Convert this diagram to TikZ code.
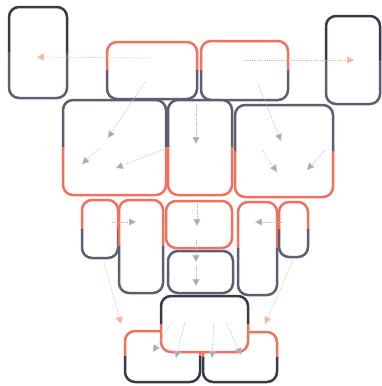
\documentclass[tikz,border=0pt]{standalone}
\usetikzlibrary{fit,arrows.meta}
\definecolor{gr}{HTML}{5E5E72}
\definecolor{dk}{HTML}{3A3A46}
\definecolor{rd}{HTML}{F2715E}
\definecolor{fa}{HTML}{B8BCC8}
\definecolor{fp}{HTML}{F4B8A6}
\tikzset{
  bx/.style={line width=2.5pt, rounded corners=10pt},
  holder/.style={inner sep=0pt, outer sep=0pt},
  faint/.style={draw=fa, line width=0.7pt, densely dotted, -{Triangle[length=7pt,width=7pt,fill=fa!90!black]}},
  faintp/.style={draw=fp, line width=0.7pt, densely dotted, -{Triangle[length=7pt,width=7pt,fill=fp]}}
}
\newcommand{\twobox}[7]{%
  \node[holder, fit={(#2,#3) (#4,#5)}] (#1) {};
  \fill[white, rounded corners=10pt] (#1.north west) rectangle (#1.south east);
  \begin{scope}
    \clip (#2-6,#3-6) rectangle (#4+6,{(#3+#5)/2});
    \draw[bx, draw=#6] (#1.north west) rectangle (#1.south east);
  \end{scope}
  \begin{scope}
    \clip (#2-6,{(#3+#5)/2}) rectangle (#4+6,#5+6);
    \draw[bx, draw=#7] (#1.north west) rectangle (#1.south east);
  \end{scope}}
\begin{document}
\begin{tikzpicture}[x=1pt,y=-1pt]
\useasboundingbox[fill=white] (0,0) rectangle (381,386);
% boxes
\twobox{b1}{9}{7}{67}{98}{dk}{gr}
\twobox{b2}{107}{42}{197}{99}{rd}{gr}
\twobox{b3}{201}{41}{288}{100}{rd}{gr}
\twobox{b4}{326}{16}{380}{104}{dk}{gr}
\twobox{b5}{63}{100}{166}{195}{gr}{rd}
\twobox{b6}{168}{100}{232}{195}{gr}{rd}
\twobox{b7}{235}{105}{333}{197}{gr}{rd}
\twobox{b8}{82}{200}{118}{258}{rd}{gr}
\twobox{b9}{119}{200}{163}{293}{rd}{gr}
\twobox{b10}{166}{201}{232}{248}{rd}{rd}
\twobox{b11}{168}{251}{233}{293}{gr}{gr}
\twobox{b12}{238}{202}{277}{295}{rd}{gr}
\twobox{b13}{279}{202}{308}{257}{rd}{gr}
\twobox{b15}{125}{331}{200}{382}{rd}{dk}
\twobox{b16}{203}{332}{277}{382}{rd}{dk}
\twobox{b14}{161}{296}{248}{352}{dk}{rd}
% arrow end points
\coordinate (s1) at (150,58);  \coordinate (e1) at (37,57);
\coordinate (s2) at (245,60);  \coordinate (e2) at (354,60);
\coordinate (s3) at (145,82);  \coordinate (e3) at (108,138);
\coordinate (s4) at (100,148); \coordinate (e4) at (82,164);
\coordinate (s5) at (172,146); \coordinate (e5) at (116,168);
\coordinate (s6) at (196,104); \coordinate (e6) at (196,144);
\coordinate (s7) at (258,84);  \coordinate (e7) at (281,141);
\coordinate (s8) at (262,150); \coordinate (e8) at (277,172);
\coordinate (s9) at (325,150); \coordinate (e9) at (307,170);
\coordinate (s10) at (112,222); \coordinate (e10) at (136,222);
\coordinate (s11) at (282,222); \coordinate (e11) at (255,222);
\coordinate (s12) at (197,204); \coordinate (e12) at (197,226);
\coordinate (s13) at (196,240); \coordinate (e13) at (196,262);
\coordinate (s14) at (196,266); \coordinate (e14) at (196,286);
\coordinate (s15) at (104,262); \coordinate (e15) at (121,324);
\coordinate (s16) at (293,260); \coordinate (e16) at (265,324);
\coordinate (s17) at (172,322); \coordinate (e17) at (153,352);
\coordinate (s18) at (185,322); \coordinate (e18) at (176,358);
\coordinate (s19) at (214,322); \coordinate (e19) at (212,358);
\coordinate (s20) at (226,322); \coordinate (e20) at (241,355);
% connectors
\draw[faintp] (s1) -- (e1);
\draw[faintp] (s2) -- (e2);
\draw[faint] (s3) -- (e3);
\draw[faint] (s4) -- (e4);
\draw[faint] (s5) -- (e5);
\draw[faint] (s6) -- (e6);
\draw[faint] (s7) -- (e7);
\draw[faint] (s8) -- (e8);
\draw[faint] (s9) -- (e9);
\draw[faint] (s10) -- (e10);
\draw[faint] (s11) -- (e11);
\draw[faint] (s12) -- (e12);
\draw[faint] (s13) -- (e13);
\draw[faint] (s14) -- (e14);
\draw[faintp] (s15) -- (e15);
\draw[faintp] (s16) -- (e16);
\draw[faint] (s17) -- (e17);
\draw[faint] (s18) -- (e18);
\draw[faint] (s19) -- (e19);
\draw[faint] (s20) -- (e20);
\end{tikzpicture}
\end{document}
